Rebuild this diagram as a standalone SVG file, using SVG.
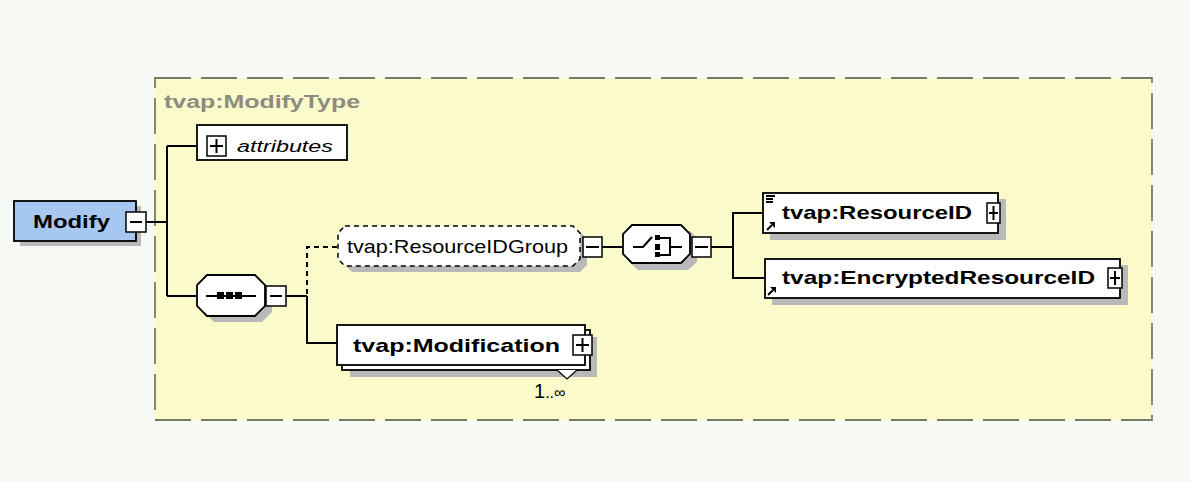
<svg xmlns="http://www.w3.org/2000/svg" width="1190" height="482" viewBox="0 0 1190 482">
<defs>
<style>
.ln{stroke:#000;stroke-width:2;fill:none}
.dl{stroke:#000;stroke-width:2;fill:none;stroke-dasharray:5,4}
.box{fill:#fff;stroke:#000;stroke-width:1.8}
.sh{fill:#b9b9b9}
.pm{fill:#fff;stroke:#000;stroke-width:1.5}
.b{font-family:"Liberation Sans",Arial,sans-serif;font-weight:bold;font-size:19px;fill:#000}
.r{font-family:"Liberation Sans",Arial,sans-serif;font-size:19px;fill:#000}
</style>
<g id="ref-arrow"><line x1="0" y1="8" x2="5" y2="3" stroke="#000" stroke-width="2"/><path d="M2,0 H8 V6 Z" fill="#000"/></g>
</defs>
<rect x="0" y="0" width="1190" height="482" fill="#f7faf4"/>
<g id="modifytype">
<rect x="155" y="78" width="997" height="342" fill="#fbfacb" stroke="#7a7a6a" stroke-width="1.8" stroke-dasharray="36,10"/>
<text x="164" y="108" font-family="'Liberation Sans',Arial,sans-serif" font-weight="bold" font-size="18" fill="#8c8c80" textLength="196" lengthAdjust="spacingAndGlyphs">tvap:ModifyType</text>
</g>
<g id="connectors">
<line class="ln" x1="146" y1="222" x2="167" y2="222"/>
<line class="ln" x1="167" y1="146" x2="167" y2="296"/>
<line class="ln" x1="167" y1="146" x2="197" y2="146"/>
<line class="ln" x1="167" y1="296" x2="197" y2="296"/>
<line class="ln" x1="286" y1="296" x2="307" y2="296"/>
<polyline class="dl" points="337,247 307,247 307,296"/>
<polyline class="ln" points="307,296 307,343 337,343"/>
<line class="ln" x1="602" y1="247" x2="623" y2="247"/>
<line class="ln" x1="711" y1="247" x2="733" y2="247"/>
<polyline class="ln" points="763,213 733,213 733,278 765,278"/>
</g>
<g id="modify">
<rect class="sh" x="20" y="206" width="121" height="40"/>
<rect x="14" y="201" width="122" height="40" fill="#a6c7f0" stroke="#000" stroke-width="1.8"/>
<text class="b" x="33" y="228" font-size="20" textLength="77" lengthAdjust="spacingAndGlyphs">Modify</text>
<rect class="pm" x="126" y="212" width="20" height="20"/>
<line class="ln" x1="130" y1="222" x2="142" y2="222"/>
</g>
<g id="attributes">
<rect class="box" x="197" y="125" width="150" height="35"/>
<rect class="pm" x="207" y="136" width="19" height="20"/>
<line class="ln" x1="210" y1="146" x2="223" y2="146"/>
<line class="ln" x1="216.5" y1="139" x2="216.5" y2="153"/>
<text x="237" y="152" font-family="'Liberation Sans',Arial,sans-serif" font-style="italic" font-size="16" fill="#000" textLength="96" lengthAdjust="spacingAndGlyphs">attributes</text>
</g>
<g id="sequence">
<path class="sh" d="M214,281 H262 L272,291 V312 L262,322 H214 L204,312 V291 Z"/>
<path class="box" d="M207,275 H255 L265,285 V306 L255,316 H207 L197,306 V285 Z"/>
<line class="ln" x1="206" y1="296" x2="256" y2="296"/>
<rect x="217" y="292" width="7" height="7" fill="#000"/>
<rect x="226" y="292" width="7" height="7" fill="#000"/>
<rect x="235" y="292" width="7" height="7" fill="#000"/>
<rect class="pm" x="266" y="286" width="20" height="20"/>
<line class="ln" x1="270" y1="296" x2="282" y2="296"/>
</g>
<g id="resourceidgroup">
<path class="sh" d="M352,232 H580 L587,239 V265 L580,272 H352 L345,265 V239 Z"/>
<path d="M345,226 H573 L580,233 V259 L573,266 H345 L338,259 V233 Z" fill="#fff" stroke="#000" stroke-width="1.5" stroke-dasharray="5,4"/>
<text class="r" x="347" y="253" textLength="221" lengthAdjust="spacingAndGlyphs">tvap:ResourceIDGroup</text>
<rect class="pm" x="583" y="237" width="19" height="20"/>
<line class="ln" x1="586" y1="247" x2="599" y2="247"/>
</g>
<g id="choice">
<path class="sh" d="M638,231 H690 L697,238 V262 L688,270 H638 L629,262 V238 Z"/>
<path class="box" d="M632,225 H681 L690,234 V254 L681,263 H632 L623,254 V234 Z"/>
<polyline class="ln" points="633,247 643,247 652,237"/>
<rect x="655" y="235" width="5" height="5" fill="#000"/>
<rect x="655" y="244" width="5" height="6" fill="#000"/>
<rect x="655" y="252" width="5" height="5" fill="#000"/>
<polyline class="ln" points="660,238 670,238 670,255 660,255"/>
<line class="ln" x1="670" y1="247" x2="682" y2="247"/>
<rect class="pm" x="692" y="237" width="19" height="20"/>
<line class="ln" x1="695" y1="247" x2="708" y2="247"/>
</g>
<g id="resourceid">
<rect class="sh" x="770" y="199" width="236" height="41"/>
<rect class="box" x="763" y="193" width="235" height="40"/>
<line class="ln" x1="766" y1="196" x2="775" y2="196" stroke-width="1.3"/>
<line class="ln" x1="766" y1="199" x2="773" y2="199" stroke-width="1.3"/>
<line class="ln" x1="766" y1="202" x2="773" y2="202" stroke-width="1.3"/>
<use href="#ref-arrow" x="767" y="222"/>
<text class="b" x="782" y="219" textLength="190" lengthAdjust="spacingAndGlyphs">tvap:ResourceID</text>
<rect class="pm" x="987" y="203" width="13" height="20"/>
<line class="ln" x1="989" y1="213" x2="998" y2="213"/>
<line class="ln" x1="993.5" y1="206" x2="993.5" y2="220"/>
</g>
<g id="encryptedresourceid">
<rect class="sh" x="772" y="265" width="356" height="40"/>
<rect class="box" x="765" y="259" width="355" height="39"/>
<use href="#ref-arrow" x="768" y="287"/>
<text class="b" x="782" y="284" textLength="313" lengthAdjust="spacingAndGlyphs">tvap:EncryptedResourceID</text>
<rect class="pm" x="1108" y="268" width="14" height="20"/>
<line class="ln" x1="1110" y1="278" x2="1120" y2="278"/>
<line class="ln" x1="1115" y1="271" x2="1115" y2="285"/>
</g>
<g id="modification">
<rect class="sh" x="350" y="337" width="247" height="40"/>
<rect class="box" x="342" y="330" width="248" height="40"/>
<rect class="box" x="337" y="325" width="248" height="40"/>
<text class="b" x="353" y="352" textLength="207" lengthAdjust="spacingAndGlyphs">tvap:Modification</text>
<rect class="pm" x="573" y="335" width="19" height="20"/>
<line class="ln" x1="576" y1="345" x2="589" y2="345"/>
<line class="ln" x1="582.5" y1="338" x2="582.5" y2="352"/>
<polyline points="557,370 567,379 577,370" fill="#fff" stroke="#000" stroke-width="1.2"/>
<text x="534" y="398" font-family="'Liberation Sans',Arial,sans-serif" font-size="20" fill="#000">1<tspan font-size="16">..∞</tspan></text>
</g>
</svg>
